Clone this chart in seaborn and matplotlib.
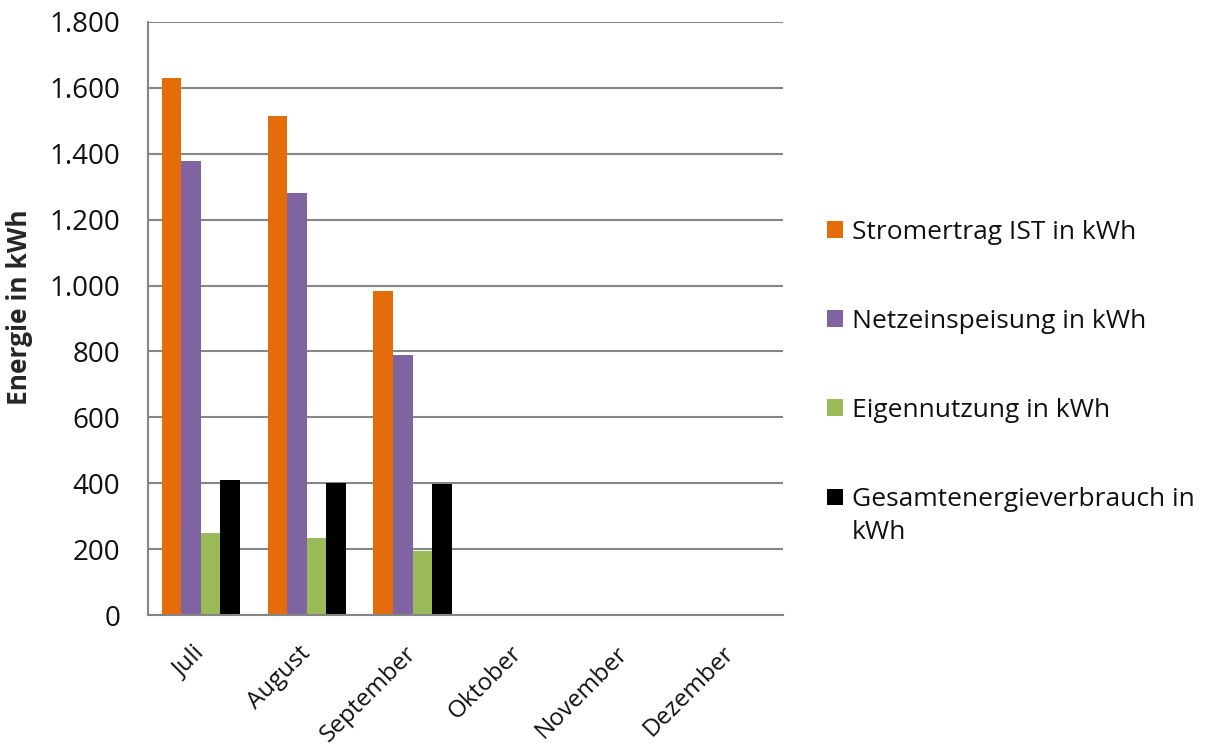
import numpy as np
import pandas as pd
import seaborn as sns
import matplotlib.pyplot as plt
from matplotlib.patches import Patch, Rectangle
from matplotlib.legend_handler import HandlerPatch

# Monthly energy values (kWh); months without data are left empty
months = ["Juli", "August", "September", "Oktober", "November", "Dezember"]
series = [
    "Stromertrag IST in kWh",
    "Netzeinspeisung in kWh",
    "Eigennutzung in kWh",
    "Gesamtenergieverbrauch in kWh",
]
stromertrag = [1630, 1515, 983, np.nan, np.nan, np.nan]
netzeinspeisung = [1378, 1282, 789, np.nan, np.nan, np.nan]
eigennutzung = [250, 234, 195, np.nan, np.nan, np.nan]
gesamtverbrauch = [409, 401, 397, np.nan, np.nan, np.nan]
colors = ["#E46C0A", "#8064A2", "#9BBB59", "#000000"]
y_ticks = [0, 200, 400, 600, 800, 1000, 1200, 1400, 1600, 1800]

rows = []
for name, vals in zip(series, [stromertrag, netzeinspeisung, eigennutzung, gesamtverbrauch]):
    for m, v in zip(months, vals):
        rows.append({"Monat": m, "Reihe": name, "Energie": v})
df = pd.DataFrame(rows).dropna()

sns.set_theme(style="white")
plt.rcParams["font.family"] = ["Open Sans", "DejaVu Sans"]
plt.rcParams["text.color"] = "#111111"

fig = plt.figure(figsize=(12.07, 7.47), dpi=100)
ax = fig.add_axes([148 / 1207, 1 - 615 / 747, 635 / 1207, 593 / 747])

sns.barplot(
    data=df, x="Monat", y="Energie", hue="Reihe",
    order=months, hue_order=series, palette=colors,
    width=0.74, gap=0, saturation=1, linewidth=0,
    errorbar=None, legend=False, ax=ax,
)

grid_col = "#868686"
ax.set_xlim(-0.5, len(months) - 0.5)
ax.set_ylim(0, 1800)
ax.set_yticks(y_ticks)
ax.set_yticklabels([f"{v:,}".replace(",", ".") for v in y_ticks])
ax.yaxis.grid(True, color=grid_col, linewidth=1.5)
ax.set_axisbelow(True)

for side in ["top", "right"]:
    ax.spines[side].set_visible(False)
for side in ["left", "bottom"]:
    ax.spines[side].set_color(grid_col)
    ax.spines[side].set_linewidth(1.5)

# category boundaries carry the tick marks, labels sit at the centres
ax.set_xticks(np.arange(-0.5, len(months)), minor=True)
ax.tick_params(axis="x", which="minor", direction="out", length=7, width=1.5, color=grid_col)
ax.set_xticks(range(len(months)))
ax.set_xticklabels(months, rotation=45, ha="right", va="center", rotation_mode="anchor")
ax.tick_params(axis="x", which="major", length=0, pad=25, labelsize=17.5, labelcolor="#111111")
ax.tick_params(axis="y", direction="out", length=7, width=1.5, color=grid_col,
               pad=13, labelsize=20, labelcolor="#111111")

ax.set_xlabel("")
ax.set_ylabel("Energie in kWh", fontsize=19, fontweight="bold")
ax.yaxis.set_label_coords(-0.181, 0.519)


def raised_square(legend, orig_handle, xdescent, ydescent, width, height, fontsize):
    # align the swatch with the first line of a two-line label
    return Rectangle((-xdescent, -ydescent + 0.72 * fontsize), width, height)


handles = [Patch(facecolor=c, edgecolor="none") for c in colors]
labels = series[:3] + ["Gesamtenergieverbrauch in\nkWh"]
leg = ax.legend(
    handles, labels,
    loc="upper left", bbox_to_anchor=(827 / 1207, 1 - 220 / 747),
    bbox_transform=fig.transFigure,
    frameon=False, fontsize=19,
    handlelength=0.6, handleheight=0.6, handletextpad=0.35,
    labelspacing=2.42, borderpad=0, borderaxespad=0,
    handler_map={handles[3]: HandlerPatch(patch_func=raised_square)},
)
leg.get_texts()[3].set_linespacing(1.45)

fig.savefig("out.png", dpi=100)
